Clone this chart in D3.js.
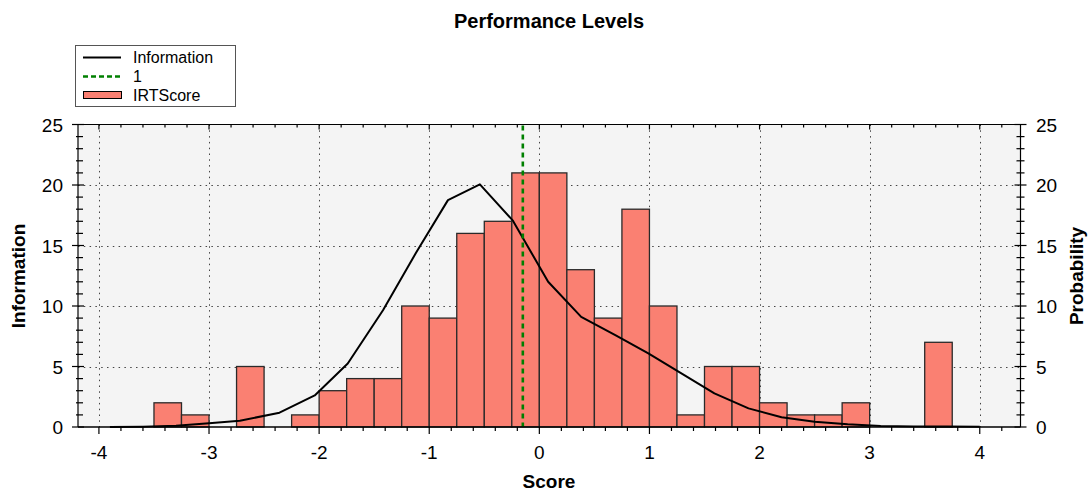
<!DOCTYPE html>
<html><head><meta charset="utf-8">
<script src="https://cdn.jsdelivr.net/npm/d3@7/dist/d3.min.js"></script>
<style>
body{margin:0;background:#fff;}
text{font-family:"Liberation Sans",Arial,sans-serif;fill:#000;}
</style>
</head><body>
<svg id="chart" width="1091" height="492"></svg>
<script>
// ---- data ----
const binStarts = [-3.5,-3.25,-3.0,-2.75,-2.5,-2.25,-2.0,-1.75,-1.5,-1.25,-1.0,-0.75,-0.5,-0.25,0.0,0.25,0.5,0.75,1.0,1.25,1.5,1.75,2.0,2.25,2.5,2.75,3.0,3.25,3.5];
const binCounts = [2,1,0,5,0,1,3,4,4,10,9,16,17,21,21,13,9,18,10,1,5,5,2,1,1,2,0,0,7];
const binWidth = 0.25;
const infoScores = [-3.9,-3.6,-3.3,-3.0,-2.72,-2.36,-2.04,-1.74,-1.42,-1.12,-0.83,-0.54,-0.24,0.08,0.38,0.69,0.99,1.29,1.59,1.9,2.2,2.5,2.8,3.1,3.4,3.7,4.0];
const infoValues = [0.01,0.03,0.11,0.30,0.52,1.18,2.61,5.25,9.65,14.4,18.75,20.05,17.05,12.0,9.1,7.6,6.08,4.43,2.78,1.54,0.8,0.44,0.22,0.09,0.05,0.04,0.03];
const cutScore = -0.15;
const xTicks = [-4,-3,-2,-1,0,1,2,3,4];
const yTicks = [0,5,10,15,20,25];
const legendLabels = ["Information","1","IRTScore"];

// ---- layout ----
const svg = d3.select("#chart");
const L = 78, R = 1020.5, T = 124.5, B = 427;
const x = d3.scaleLinear().domain([-4.19, 4.37]).range([L, R]);
const y = d3.scaleLinear().domain([0, 25]).range([B, T]);

// plot background
svg.append("rect").attr("x", L).attr("y", T).attr("width", R - L).attr("height", B - T).attr("fill", "#f4f4f4");

// gridlines
const grid = svg.append("g").attr("stroke", "#444").attr("stroke-width", 1).attr("stroke-dasharray", "1.5,4.3");
grid.selectAll(".vg").data(xTicks).join("line")
  .attr("x1", d => Math.round(x(d)) + 0.5).attr("x2", d => Math.round(x(d)) + 0.5)
  .attr("y1", T).attr("y2", B);
grid.selectAll(".hg").data(yTicks.filter(d => d > 0 && d < 25)).join("line")
  .attr("y1", d => Math.round(y(d)) + 0.5).attr("y2", d => Math.round(y(d)) + 0.5)
  .attr("x1", L).attr("x2", R);

// bars
svg.append("g").selectAll("rect").data(binStarts.map((s, i) => ({s, c: binCounts[i]})).filter(d => d.c > 0)).join("rect")
  .attr("x", d => x(d.s)).attr("width", d => x(d.s + binWidth) - x(d.s))
  .attr("y", d => y(d.c)).attr("height", d => y(0) - y(d.c))
  .attr("fill", "#fa8072").attr("stroke", "#2a2a2a").attr("stroke-width", 1.3);

// information curve
const line = d3.line().x(d => x(d[0])).y(d => y(d[1]));
svg.append("path").datum(infoScores.map((s, i) => [s, infoValues[i]]))
  .attr("d", line).attr("fill", "none").attr("stroke", "#000").attr("stroke-width", 2).attr("stroke-linejoin", "round");

// cut score line
svg.append("line").attr("x1", x(cutScore)).attr("x2", x(cutScore)).attr("y1", T + 1).attr("y2", B)
  .attr("stroke", "#008000").attr("stroke-width", 2.6).attr("stroke-dasharray", "5,4");

// frame
const frame = svg.append("g").attr("stroke", "#000").attr("stroke-width", 1.2);
frame.append("line").attr("x1", L).attr("x2", R).attr("y1", B).attr("y2", B).attr("stroke-width", 1.6);
frame.append("line").attr("x1", L).attr("x2", R).attr("y1", T).attr("y2", T);
frame.append("line").attr("x1", L).attr("x2", L).attr("y1", T).attr("y2", B);
frame.append("line").attr("x1", R).attr("x2", R).attr("y1", T).attr("y2", B);

// ticks
const xMinor = d3.range(-4, 4.3, 0.2).filter(d => Math.abs(d - Math.round(d)) > 0.01);
const yMinor = d3.range(0, 25.5, 1).filter(d => d % 5 !== 0);
const tk = svg.append("g").attr("stroke", "#000").attr("stroke-width", 1.2);
xTicks.forEach(d => {
  tk.append("line").attr("x1", x(d)).attr("x2", x(d)).attr("y1", B).attr("y2", B + 7);
  tk.append("line").attr("x1", x(d)).attr("x2", x(d)).attr("y1", T).attr("y2", T + 5);
});
xMinor.forEach(d => {
  tk.append("line").attr("x1", x(d)).attr("x2", x(d)).attr("y1", B).attr("y2", B + 4);
  tk.append("line").attr("x1", x(d)).attr("x2", x(d)).attr("y1", T).attr("y2", T + 3);
});
yTicks.forEach(d => {
  tk.append("line").attr("x1", L - 6).attr("x2", L + 6).attr("y1", y(d)).attr("y2", y(d));
  tk.append("line").attr("x1", R - 6).attr("x2", R + 6).attr("y1", y(d)).attr("y2", y(d));
});
yMinor.forEach(d => {
  tk.append("line").attr("x1", L - 2).attr("x2", L + 5).attr("y1", y(d)).attr("y2", y(d));
  tk.append("line").attr("x1", R - 4).attr("x2", R + 4).attr("y1", y(d)).attr("y2", y(d));
});

// tick labels
const lab = svg.append("g").attr("font-size", 19);
lab.selectAll(".xl").data(xTicks).join("text")
  .attr("x", d => x(d)).attr("y", 459).attr("text-anchor", "middle").text(d => d);
lab.selectAll(".yl").data(yTicks).join("text")
  .attr("x", 63).attr("y", d => y(d) + 7).attr("text-anchor", "end").text(d => d);
lab.selectAll(".yr").data(yTicks).join("text")
  .attr("x", 1036).attr("y", d => y(d) + 7).attr("text-anchor", "start").text(d => d);

// titles
svg.append("text").attr("x", 549).attr("y", 28).attr("text-anchor", "middle")
  .attr("font-size", 20).attr("font-weight", "bold").text("Performance Levels");
svg.append("text").attr("x", 549).attr("y", 488).attr("text-anchor", "middle")
  .attr("font-size", 19).attr("font-weight", "bold").text("Score");
svg.append("text").attr("transform", "translate(25,276) rotate(-90)").attr("text-anchor", "middle")
  .attr("font-size", 19).attr("font-weight", "bold").text("Information");
svg.append("text").attr("transform", "translate(1083,276) rotate(-90)").attr("text-anchor", "middle")
  .attr("font-size", 19).attr("font-weight", "bold").text("Probability");

// legend
const lg = svg.append("g");
lg.append("rect").attr("x", 75.5).attr("y", 45.5).attr("width", 160).attr("height", 61)
  .attr("fill", "#fff").attr("stroke", "#555").attr("stroke-width", 1);
const rowsY = [57.5, 76.5, 95];
lg.append("line").attr("x1", 83).attr("x2", 121).attr("y1", rowsY[0]).attr("y2", rowsY[0]).attr("stroke", "#000").attr("stroke-width", 2);
lg.append("line").attr("x1", 83).attr("x2", 121).attr("y1", rowsY[1]).attr("y2", rowsY[1]).attr("stroke", "#008000").attr("stroke-width", 2.6).attr("stroke-dasharray", "5,3");
lg.append("rect").attr("x", 83.5).attr("y", rowsY[2] - 3.5).attr("width", 38).attr("height", 7)
  .attr("fill", "#fa8072").attr("stroke", "#000").attr("stroke-width", 1);
lg.selectAll(".lt").data(legendLabels).join("text")
  .attr("x", 133).attr("y", (d, i) => rowsY[i] + 5.5).attr("font-size", 16).text(d => d);
</script>
</body></html>
